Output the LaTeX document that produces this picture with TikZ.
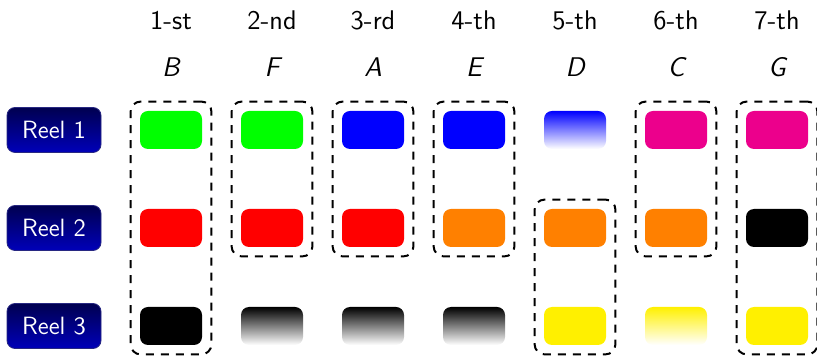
\documentclass[tikz,border=0pt]{standalone}
\usetikzlibrary{fit}
\definecolor{cgreen}{RGB}{0,255,0}
\definecolor{cred}{RGB}{255,0,0}
\definecolor{cblue}{RGB}{0,0,255}
\definecolor{corange}{RGB}{255,128,0}
\definecolor{cmag}{RGB}{236,0,140}
\definecolor{cyellow}{RGB}{255,240,0}
\definecolor{reeltop}{RGB}{0,0,80}
\definecolor{reelbot}{RGB}{0,0,185}
\definecolor{reeledge}{RGB}{40,40,130}
\begin{document}
\begin{tikzpicture}[x=0.5pt,y=-0.5pt,
  chip/.style={rounded corners=4pt, minimum width=31pt, minimum height=19pt, inner sep=0pt},
  full/.style={chip, fill=#1},
  fade/.style={chip, top color=#1, bottom color=white},
  group/.style={draw, line width=1pt, dash pattern=on 4pt off 3.5pt,
    rounded corners=5pt, inner sep=4.5pt},
  reel/.style={rounded corners=4pt, minimum width=47pt, minimum height=22.5pt,
    inner sep=0pt, top color=reeltop, bottom color=reelbot, draw=reeledge,
    line width=0.4pt, text=white, font=\fontsize{12.5}{14}\sffamily},
  rank/.style={anchor=base, font=\fontsize{13.5}{16}\sffamily},
  letter/.style={anchor=base, font=\fontsize{13.5}{16}\sffamily\itshape}]
\useasboundingbox (0,0) rectangle (817,356);

% reel labels
\node[reel] (reel1) at (54,130) {Reel 1};
\node[reel] (reel2) at (54,228) {Reel 2};
\node[reel] (reel3) at (54,326) {Reel 3};

% column headings
\foreach \r/\l [count=\i from 0] in {1-st/B,2-nd/F,3-rd/A,4-th/E,5-th/D,6-th/C,7-th/G}{
  \node[rank] (rank\i) at (171+101*\i,29.3) {\r};
  \node[letter] (letter\i) at (171+101*\i,76.5) {\l};
}

% symbols on reel 1
\node[full=cgreen]  (s0a) at (171,130) {};
\node[full=cgreen]  (s1a) at (272,130) {};
\node[full=cblue]   (s2a) at (373,130) {};
\node[full=cblue]   (s3a) at (474,130) {};
\node[fade=cblue]   (s4a) at (575,130) {};
\node[full=cmag]    (s5a) at (676,130) {};
\node[full=cmag]    (s6a) at (777,130) {};
% symbols on reel 2
\node[full=cred]    (s0b) at (171,228) {};
\node[full=cred]    (s1b) at (272,228) {};
\node[full=cred]    (s2b) at (373,228) {};
\node[full=corange] (s3b) at (474,228) {};
\node[full=corange] (s4b) at (575,228) {};
\node[full=corange] (s5b) at (676,228) {};
\node[full=black]   (s6b) at (777,228) {};
% symbols on reel 3
\node[full=black]   (s0c) at (171,326) {};
\node[fade=black]   (s1c) at (272,326) {};
\node[fade=black]   (s2c) at (373,326) {};
\node[fade=black]   (s3c) at (474,326) {};
\node[full=cyellow] (s4c) at (575,326) {};
\node[fade=cyellow] (s5c) at (676,326) {};
\node[full=cyellow] (s6c) at (777,326) {};

% winning groups
\node[group, fit=(s0a)(s0c)] (g0) {};
\node[group, fit=(s1a)(s1b)] (g1) {};
\node[group, fit=(s2a)(s2b)] (g2) {};
\node[group, fit=(s3a)(s3b)] (g3) {};
\node[group, fit=(s4b)(s4c)] (g4) {};
\node[group, fit=(s5a)(s5b)] (g5) {};
\node[group, fit=(s6a)(s6c)] (g6) {};
\end{tikzpicture}
\end{document}
